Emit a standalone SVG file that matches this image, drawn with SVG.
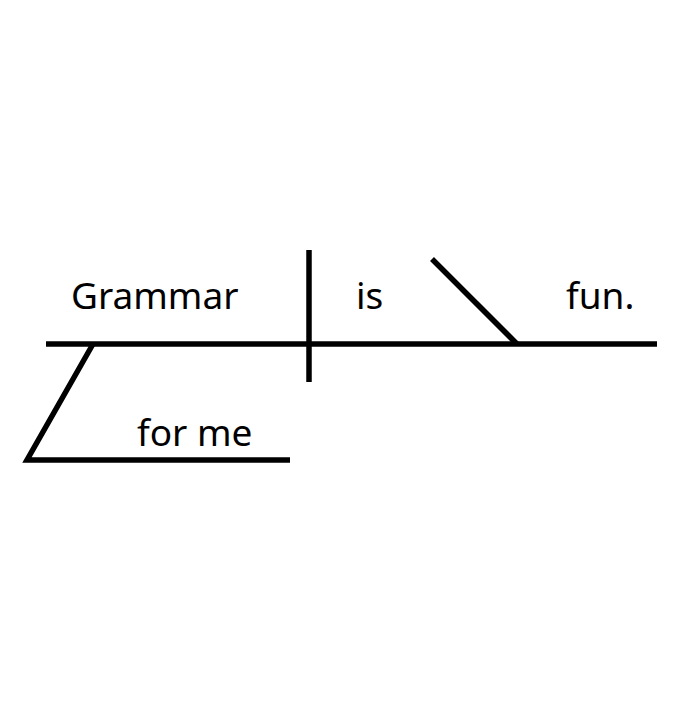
<svg xmlns="http://www.w3.org/2000/svg" width="678" height="714" viewBox="0 0 678 714">
<style>
.ln{stroke:#000;stroke-width:5.5;fill:none;stroke-linecap:butt}
.t{font-family:"Noto Sans","Open Sans","DejaVu Sans",sans-serif;font-size:37px;fill:#000}
</style>
<rect width="678" height="714" fill="#fff"/>
<g id="connectors">
<line class="ln" x1="46" y1="344" x2="657" y2="344"/>
<line class="ln" x1="309" y1="250" x2="309" y2="382"/>
<line class="ln" x1="432" y1="259" x2="517" y2="344"/>
<polyline class="ln" points="93,344 27,460 290,460"/>
</g>
<g id="subject"><text class="t" x="71" y="309">Grammar</text></g>
<g id="verb"><text class="t" x="356" y="309">is</text></g>
<g id="complement"><text class="t" x="566" y="309">fun.</text></g>
<g id="modifier"><text class="t" x="137" y="446">for me</text></g>
</svg>
